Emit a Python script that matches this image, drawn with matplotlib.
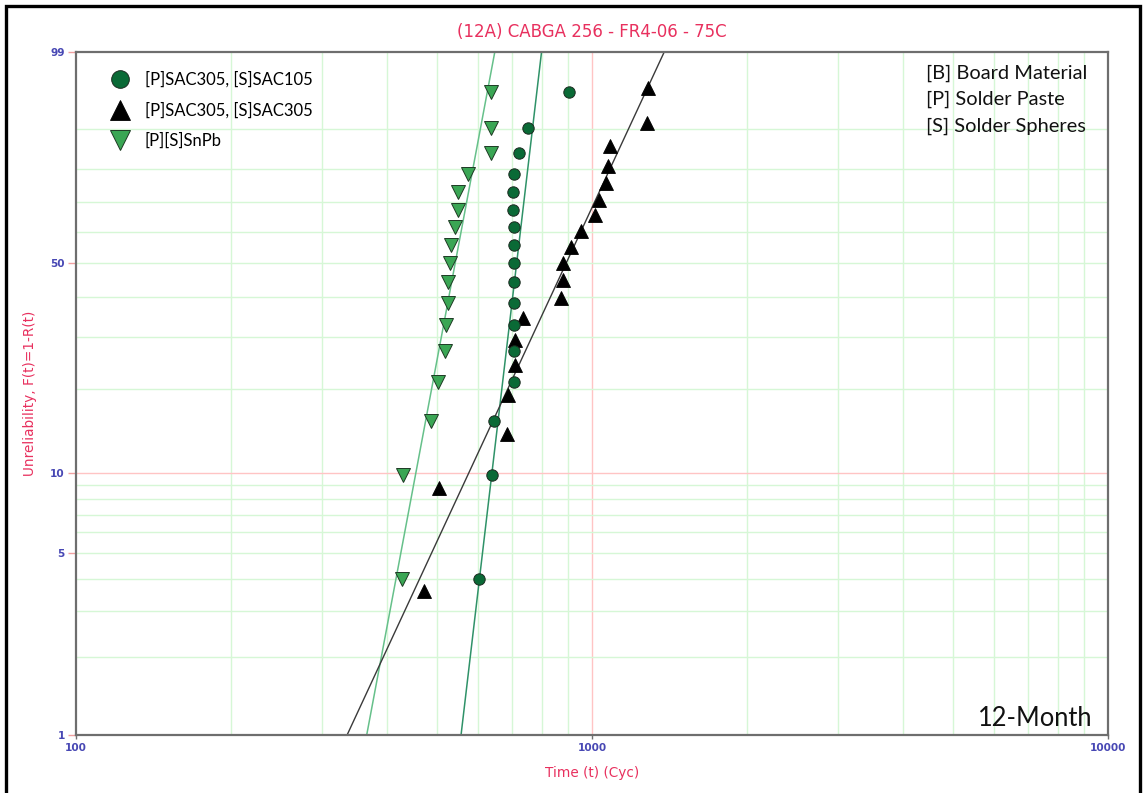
import numpy as np
import matplotlib
matplotlib.use("Agg")
import matplotlib.pyplot as plt
from matplotlib.patches import Rectangle
from matplotlib.ticker import NullLocator

# ---- data: failure times (cycles) and plotted unreliability (%) ----
sac105_cycles = [603, 639, 647, 707, 706, 705, 705, 705, 705, 705, 705, 704, 704, 705, 722, 751, 901]
sac105_unrel = [4.0, 9.8, 15.5, 21.3, 27.0, 32.8, 38.5, 44.3, 50.0, 55.7, 61.5, 67.2, 73.0, 78.7, 84.5, 90.2, 96.0]

sac305_cycles = [473, 505, 683, 686, 709, 709, 734, 871, 878, 878, 912, 952, 1013, 1033, 1066, 1073, 1082, 1277, 1283]
sac305_unrel = [3.6, 8.8, 13.9, 19.1, 24.2, 29.4, 34.5, 39.7, 44.8, 50.0, 55.2, 60.3, 65.5, 70.6, 75.8, 80.9, 86.1, 91.2, 96.4]

snpb_cycles = [428, 430, 487, 502, 518, 521, 525, 525, 530, 532, 542, 549, 549, 574, 637, 637, 637]
snpb_unrel = [4.0, 9.8, 15.5, 21.3, 27.0, 32.8, 38.5, 44.3, 50.0, 55.7, 61.5, 67.2, 73.0, 78.7, 84.5, 90.2, 96.0]

# Weibull fit parameters (beta, eta) for each group
sac105_fit = (17.06, 730.0)
sac305_fit = (4.33, 970.0)
snpb_fit = (10.72, 562.0)

series_labels = ["[P]SAC305, [S]SAC105", "[P]SAC305, [S]SAC305", "[P][S]SnPb"]
y_ticks = [1, 5, 10, 50, 99]
x_ticks = [100, 1000, 10000]
x_grid = [200, 300, 400, 500, 600, 700, 800, 900, 2000, 3000, 4000, 5000, 6000, 7000, 8000, 9000]
y_grid = [2, 3, 4, 5, 6, 7, 8, 9, 20, 30, 40, 50, 60, 70, 80, 90]

TITLE_RED = "#E8305E"
TICK_BLUE = "#4848B4"
GRID_GREEN = "#d6f7d6"
GRID_RED = "#ffc4c4"


def weib_fwd(f):
    f = np.clip(np.asarray(f, dtype=float), 1e-9, 100 - 1e-9)
    return np.log(-np.log1p(-f / 100.0))


def weib_inv(w):
    w = np.asarray(w, dtype=float)
    return 100.0 * (-np.expm1(-np.exp(w)))


W, H = 1144, 793
fig = plt.figure(figsize=(W / 100, H / 100), dpi=100)
ax_l, ax_r, ax_t, ax_b = 76, 1108, 52, 735
ax = fig.add_axes([ax_l / W, 1 - ax_b / H, (ax_r - ax_l) / W, (ax_b - ax_t) / H])

ax.set_xscale("log")
ax.set_yscale("function", functions=(weib_fwd, weib_inv))
ax.set_xlim(100, 10000)
ax.set_ylim(1, 99)

# background grid
for v in x_grid:
    ax.axvline(v, color=GRID_GREEN, lw=1.0, zorder=0)
ax.axvline(1000, color=GRID_RED, lw=1.0, zorder=0)
for v in y_grid:
    ax.axhline(v, color=GRID_GREEN, lw=1.0, zorder=0)
ax.axhline(10, color=GRID_RED, lw=1.0, zorder=0)


def fit_line(beta, eta):
    w = np.linspace(weib_fwd(0.3), weib_fwd(99.9), 300)
    t = eta * np.exp(w / beta)
    return t, weib_inv(w)


t, f = fit_line(*snpb_fit)
ax.plot(t, f, color="#66c08a", lw=1.1, zorder=2)
t, f = fit_line(*sac105_fit)
ax.plot(t, f, color="#2f9268", lw=1.1, zorder=2)
t, f = fit_line(*sac305_fit)
ax.plot(t, f, color="#3a3a3a", lw=1.0, zorder=2)

h1, = ax.plot(sac105_cycles, sac105_unrel, ls="none", marker="o", ms=8.2,
              mfc="#0a6a36", mec="#1c2a20", mew=0.7, zorder=4)
h2, = ax.plot(sac305_cycles, sac305_unrel, ls="none", marker="^", ms=9.5,
              mfc="black", mec="black", mew=0.6, zorder=3)
h3, = ax.plot(snpb_cycles, snpb_unrel, ls="none", marker="v", ms=9.5,
              mfc="#3aa654", mec="#1e3a24", mew=0.7, zorder=3)

# ticks
ax.set_yticks(y_ticks)
ax.set_yticklabels([str(v) for v in y_ticks])
ax.set_xticks(x_ticks)
ax.set_xticklabels([str(v) for v in x_ticks])
ax.xaxis.set_minor_locator(NullLocator())
ax.yaxis.set_minor_locator(NullLocator())
ax.tick_params(axis="y", length=6, width=1.0, color="#f0a0a0", pad=2,
               labelsize=7.6, labelcolor=TICK_BLUE)
ax.tick_params(axis="x", length=3, width=1.0, color="#707070", pad=3,
               labelsize=7.6, labelcolor=TICK_BLUE)
for lab in ax.get_xticklabels() + ax.get_yticklabels():
    lab.set_fontweight("bold")

for s in ax.spines.values():
    s.set_color("#6e6e6e")
    s.set_linewidth(1.6)

fig.text(592 / W, 1 - 32 / H, "(12A) CABGA 256 - FR4-06 - 75C", color=TITLE_RED,
         fontsize=12, ha="center", va="center")
fig.text(592 / W, 1 - 773 / H, "Time (t) (Cyc)", color=TITLE_RED,
         fontsize=9.8, ha="center", va="center")
fig.text(30 / W, 1 - 393 / H, "Unreliability, F(t)=1-R(t)", color=TITLE_RED,
         fontsize=9.8, ha="center", va="center", rotation=90)

leg = ax.legend([h1, h2, h3], series_labels, loc="upper left",
                bbox_to_anchor=(0.032, 0.972), frameon=False,
                prop={"family": "Lato", "size": 12}, handlelength=1.3,
                handletextpad=0.84, labelspacing=0.87, borderpad=0, borderaxespad=0,
                markerscale=1.55)

notes = ["[B] Board Material", "[P] Solder Paste", "[S] Solder Spheres"]
for i, txt in enumerate(notes):
    fig.text(926 / W, 1 - (73 + 26.5 * i) / H, txt, family="Lato", fontsize=14.4,
             ha="left", va="center", color="#111111")

fig.text(1092 / W, 1 - 726 / H, "12-Month", family="Lato", fontsize=18.4,
         ha="right", va="baseline", color="#111111")

# outer frame
fig.add_artist(Rectangle((5.5 / W, -0.05), (1139.5 - 5.5) / W, 1.05 - 5.5 / H,
                         transform=fig.transFigure, fill=False, lw=2.4, ec="black"))

fig.savefig("out.png", dpi=100)
